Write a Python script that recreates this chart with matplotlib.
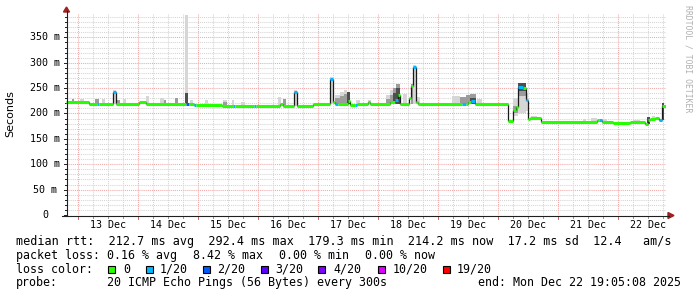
import matplotlib
matplotlib.use("Agg")
import matplotlib.pyplot as plt
import matplotlib.transforms as mtransforms
from matplotlib.patches import Rectangle, Polygon
from matplotlib.lines import Line2D
import numpy as np

# ---------------- data ----------------
# time axis: hours since 12 Dec 00:00
x_start, x_end = 19.08, 259.08
day_labels = ["13 Dec", "14 Dec", "15 Dec", "16 Dec", "17 Dec",
              "18 Dec", "19 Dec", "20 Dec", "21 Dec", "22 Dec"]
day_noon_hours = [36, 60, 84, 108, 132, 156, 180, 204, 228, 252]
y_tick_values = [0, 50, 100, 150, 200, 250, 300, 350]
y_tick_labels = ["0", "50 m", "100 m", "150 m", "200 m", "250 m", "300 m", "350 m"]

# median rtt (ms) as step segments: edges (hours) and values
med_t = [19.08, 28.4, 31.6, 32.4, 38.0, 39.2, 48.4, 51.2, 67.2, 68.4, 70.4, 71.2,
         81.6, 86.0, 86.8, 94.4, 95.2, 104.8, 106.0, 110.4, 111.6, 118.0, 124.8,
         126.0, 126.8, 128.0, 132.0, 132.8, 134.8, 135.6, 140.0, 140.8, 148.8,
         150.8, 152.0, 152.8, 156.4, 157.2, 158.0, 159.2, 160.0, 177.6, 179.2,
         180.0, 181.2, 182.8, 196.0, 198.0, 199.2, 200.0, 202.0, 203.2, 204.0,
         204.8, 209.2, 231.6, 232.4, 233.6, 238.0, 244.8, 250.8, 252.0, 252.8,
         254.8, 256.4, 257.6, 259.08]
med_v = [222, 219, 219, 219, 243, 219, 223, 219, 219, 219, 216, 216, 214, 214,
         214, 214, 214, 219, 214, 243, 214, 219, 268, 223, 219, 219, 225, 216,
         216, 219, 223, 219, 222, 226, 237, 219, 230, 255, 292, 223, 219, 219,
         219, 223, 225, 219, 186, 207, 212, 253, 251, 227, 189, 192, 184, 188,
         187, 184, 181, 184, 179.5, 188, 190, 192, 188, 214]
med_loss = [0, 0, 1, 0, 1, 0, 0, 0, 2, 0, 1, 0, 0, 1, 0, 1, 0, 0, 0, 1,
            0, 0, 1, 0, 1, 0, 0, 0, 1, 0, 0, 0, 0, 1, 0, 0, 0, 0, 1, 0,
            0, 1, 0, 0, 1, 0, 0, 0, 0, 1, 0, 1, 0, 0, 0, 0, 1, 0, 0, 0,
            0, 0, 0, 0, 1, 0]

# smoke (ping spread) blocks: start, end (hours), low, high (ms), shade
smoke_start = [21.6, 24.8, 30.8, 33.6, 38.0, 39.2, 42.0, 51.2, 56.8, 58.4, 62.8,
               66.8, 66.8, 68.8, 74.8, 82.0, 82.0, 85.6, 89.2, 104.0, 106.0,
               110.4, 124.8, 126.8, 126.8, 128.8, 128.8, 130.4, 130.4, 131.6,
               135.2, 140.0, 147.2, 147.2, 148.8, 148.8, 150.0, 150.0, 151.2,
               151.2, 154.0, 157.2, 158.0, 159.2, 173.6, 176.8, 179.2, 180.8,
               180.8, 183.6, 198.0, 198.0, 200.0, 200.0, 200.0, 203.2, 205.2,
               226.0, 229.2, 234.0, 246.0, 251.6, 253.6, 257.6]
smoke_end = [22.4, 26.4, 32.4, 34.8, 39.2, 40.8, 43.2, 52.4, 58.4, 59.2, 64.0,
             68.0, 68.0, 70.0, 76.0, 83.6, 83.6, 86.4, 90.8, 105.2, 107.2,
             111.6, 126.0, 128.8, 128.8, 130.4, 130.4, 131.6, 131.6, 132.8,
             136.8, 141.2, 148.8, 148.8, 150.0, 150.0, 151.2, 151.2, 152.8,
             152.8, 155.6, 158.0, 159.2, 160.8, 176.8, 179.2, 180.8, 183.2,
             183.2, 185.6, 200.0, 200.0, 203.2, 203.2, 203.2, 204.0, 207.6,
             227.2, 231.6, 235.6, 248.8, 252.8, 254.8, 258.4]
smoke_lo = [222, 222, 219, 219, 219, 219, 219, 219, 219, 219, 219,
            219, 219, 219, 216, 214, 214, 214, 214, 214, 214,
            214, 219, 219, 219, 219, 219, 219, 219, 219,
            216, 219, 219, 219, 219, 219, 219, 219, 219,
            219, 219, 219, 219, 219, 219, 219, 219, 219,
            219, 219, 195, 200, 200, 235, 245, 205, 190,
            184, 184, 184, 181, 180, 190, 188]
smoke_hi = [228, 229, 229, 228, 246, 226, 228, 234, 231, 227, 230,
            395, 240, 226, 227, 226, 223, 226, 222, 233, 229,
            246, 271, 236, 230, 242, 234, 246, 238, 242,
            226, 227, 236, 228, 246, 236, 250, 240, 258,
            250, 239, 258, 295, 232, 234, 232, 236, 238,
            230, 228, 230, 215, 258, 261, 261, 240, 196,
            190, 192, 190, 188, 193, 196, 220]
smoke_shade = ["m", "l", "m", "l", "l", "m", "l", "l", "l", "m", "m",
               "l", "d", "l", "l", "l", "m", "l", "l", "l", "m",
               "l", "l", "l", "m", "l", "m", "l", "m", "d",
               "l", "l", "l", "m", "l", "m", "m", "d", "m",
               "d", "l", "m", "l", "l", "l", "m", "m", "m",
               "d", "l", "l", "m", "l", "m", "d", "l", "l",
               "l", "l", "l", "l", "d", "l", "d"]

loss_levels = [0, 1, 2, 3, 4, 10, 19]
loss_labels = ["0", "1/20", "2/20", "3/20", "4/20", "10/20", "19/20"]
loss_colors = ["#26ff00", "#00b8ff", "#0059ff", "#5e00ff", "#7e00ff", "#dd00ff", "#ff0000"]

stats_row1 = "median rtt:  212.7 ms avg  292.4 ms max  179.3 ms min  214.2 ms now  17.2 ms sd  12.4   am/s"
stats_row2 = ["packet loss:", "0.16 % avg", "8.42 % max", "0.00 % min", "0.00 % now"]
probe_text = "20 ICMP Echo Pings (56 Bytes) every 300s"
end_text = "end: Mon Dec 22 19:05:08 2025"

# ---------------- figure ----------------
W, H = 697, 297
fig = plt.figure(figsize=(W / 100, H / 100), dpi=100)
fig.patch.set_facecolor("white")


def fx(x):
    return x / W


def fy(y):
    return 1 - y / H


AX_L, AX_R, AX_T, AX_B = 66, 666, 13, 215
ax = fig.add_axes([fx(AX_L), fy(AX_B), (AX_R - AX_L) / W, (AX_B - AX_T) / H])
ax.set_xlim(x_start, x_end)
ax.set_ylim(0, 398)
ax.set_facecolor("white")
for s in ax.spines.values():
    s.set_visible(False)
ax.set_xticks([])
ax.set_yticks([])

mono = "DejaVu Sans Mono"
dash = (0, (1, 1))
# grid
for v in range(10, 400, 10):
    major = (v % 50 == 0)
    ax.axhline(v, color="#f0a8a8" if major else "#d4d4d4", lw=0.75,
               ls=dash, zorder=0)
for h in np.arange(24, x_end, 6):
    major = (h % 24 == 0)
    ax.axvline(h, color="#f0a8a8" if major else "#d4d4d4", lw=0.75,
               ls=dash, zorder=0)

# smoke
shade_col = {"l": "#d6d6d6", "m": "#9c9c9c", "d": "#4e4e4e"}
shade_z = {"l": 1, "m": 2, "d": 3}
for s0, s1, lo, hi, sh in zip(smoke_start, smoke_end, smoke_lo, smoke_hi, smoke_shade):
    ax.bar(s0, hi - lo, width=s1 - s0, bottom=lo, align="edge",
           color=shade_col[sh], lw=0, zorder=shade_z[sh])

# median: vertical connectors then coloured horizontal segments
mt = np.array(med_t)
mv = np.array(med_v)
ax.vlines(mt[1:-1], mv[:-1], mv[1:], color="#1a1a1a", lw=0.9, zorder=4)
seg_cols = [loss_colors[loss_levels.index(l)] for l in med_loss]
ax.hlines(mv, mt[:-1], mt[1:], colors=seg_cols, lw=2.2, zorder=5,
          capstyle="butt")

# axes lines and arrows
fig.add_artist(Line2D([fx(66.5), fx(66.5)], [fy(215.5), fy(11)], color="#202020", lw=0.8))
fig.add_artist(Line2D([fx(62), fx(669)], [fy(215.5), fy(215.5)], color="#202020", lw=0.8))
arrow_col = "#a02020"
fig.add_artist(Polygon([[fx(63.5), fy(12)], [fx(69.5), fy(12)], [fx(66.5), fy(7)]],
                       closed=True, color=arrow_col, transform=fig.transFigure))
fig.add_artist(Polygon([[fx(668), fy(212.5)], [fx(668), fy(218.5)], [fx(674), fy(215.5)]],
                       closed=True, color=arrow_col, transform=fig.transFigure))

# y ticks marks
tr_y = mtransforms.blended_transform_factory(fig.transFigure, ax.transData)
for v in range(0, 400, 10):
    ln = 3 if v % 50 == 0 else 2
    ax.add_artist(Line2D([fx(66.5 - ln), fx(66.5)], [v, v], color="#202020",
                         lw=0.7, transform=tr_y, clip_on=False))
# x tick marks
tr_x = mtransforms.blended_transform_factory(ax.transData, fig.transFigure)
for h in np.arange(24, x_end, 6):
    major = (h % 24 == 0)
    ax.add_artist(Line2D([h, h], [fy(215.5), fy(218.5 if major else 217.5)],
                         color="#d06060" if major else "#909090", lw=0.7,
                         transform=tr_x, clip_on=False))

# tick labels
for v, lab in zip(y_tick_values, y_tick_labels):
    ax.text(fx(45), v, lab, transform=tr_y, ha="center", va="center",
            family=mono, fontsize=7.2, color="#000000")
for h, lab in zip(day_noon_hours, day_labels):
    ax.text(h, fy(225), lab, transform=tr_x, ha="center", va="center",
            family=mono, fontsize=7.2, color="#000000")

fig.text(fx(10), fy(114), "Seconds", rotation=90, ha="center", va="center",
         family="DejaVu Sans", fontsize=8, color="#000000")
fig.text(fx(688), fy(5), "RRDTOOL / TOBI OETIKER", rotation=270, ha="center",
         va="top", family=mono, fontsize=5.9, color="#b0b0b0")

# legend / stats text
FS = 8.4
fig.text(fx(16), fy(241.7), stats_row1, ha="left", va="center", family=mono, fontsize=8.47)
row2_x = [16, 107.3, 193.3, 279.3, 365]
for x, t in zip(row2_x, stats_row2):
    fig.text(fx(x), fy(255.3), t, ha="left", va="center", family=mono, fontsize=FS)

fig.text(fx(16), fy(269.3), "loss color:", ha="left", va="center", family=mono, fontsize=FS)
box_x = [108, 146, 203, 260.7, 318.3, 378, 442.7]
lab_x = [123.3, 160, 217.3, 275, 333, 392.7, 456.7]
for bx, lx, lab, col in zip(box_x, lab_x, loss_labels, loss_colors):
    fig.add_artist(Rectangle((fx(bx), fy(273)), 7 / W, 7 / H, transform=fig.transFigure,
                             facecolor=col, edgecolor="#000000", lw=0.8))
    fig.text(fx(lx), fy(269.3), lab, ha="left", va="center", family=mono, fontsize=FS)

fig.text(fx(16), fy(282.7), "probe:", ha="left", va="center", family=mono, fontsize=FS)
fig.text(fx(107.3), fy(282.7), probe_text, ha="left", va="center", family=mono, fontsize=FS)
fig.text(fx(478.3), fy(282.7), end_text, ha="left", va="center", family=mono, fontsize=FS)

fig.savefig("out.png", dpi=100, facecolor="white")
